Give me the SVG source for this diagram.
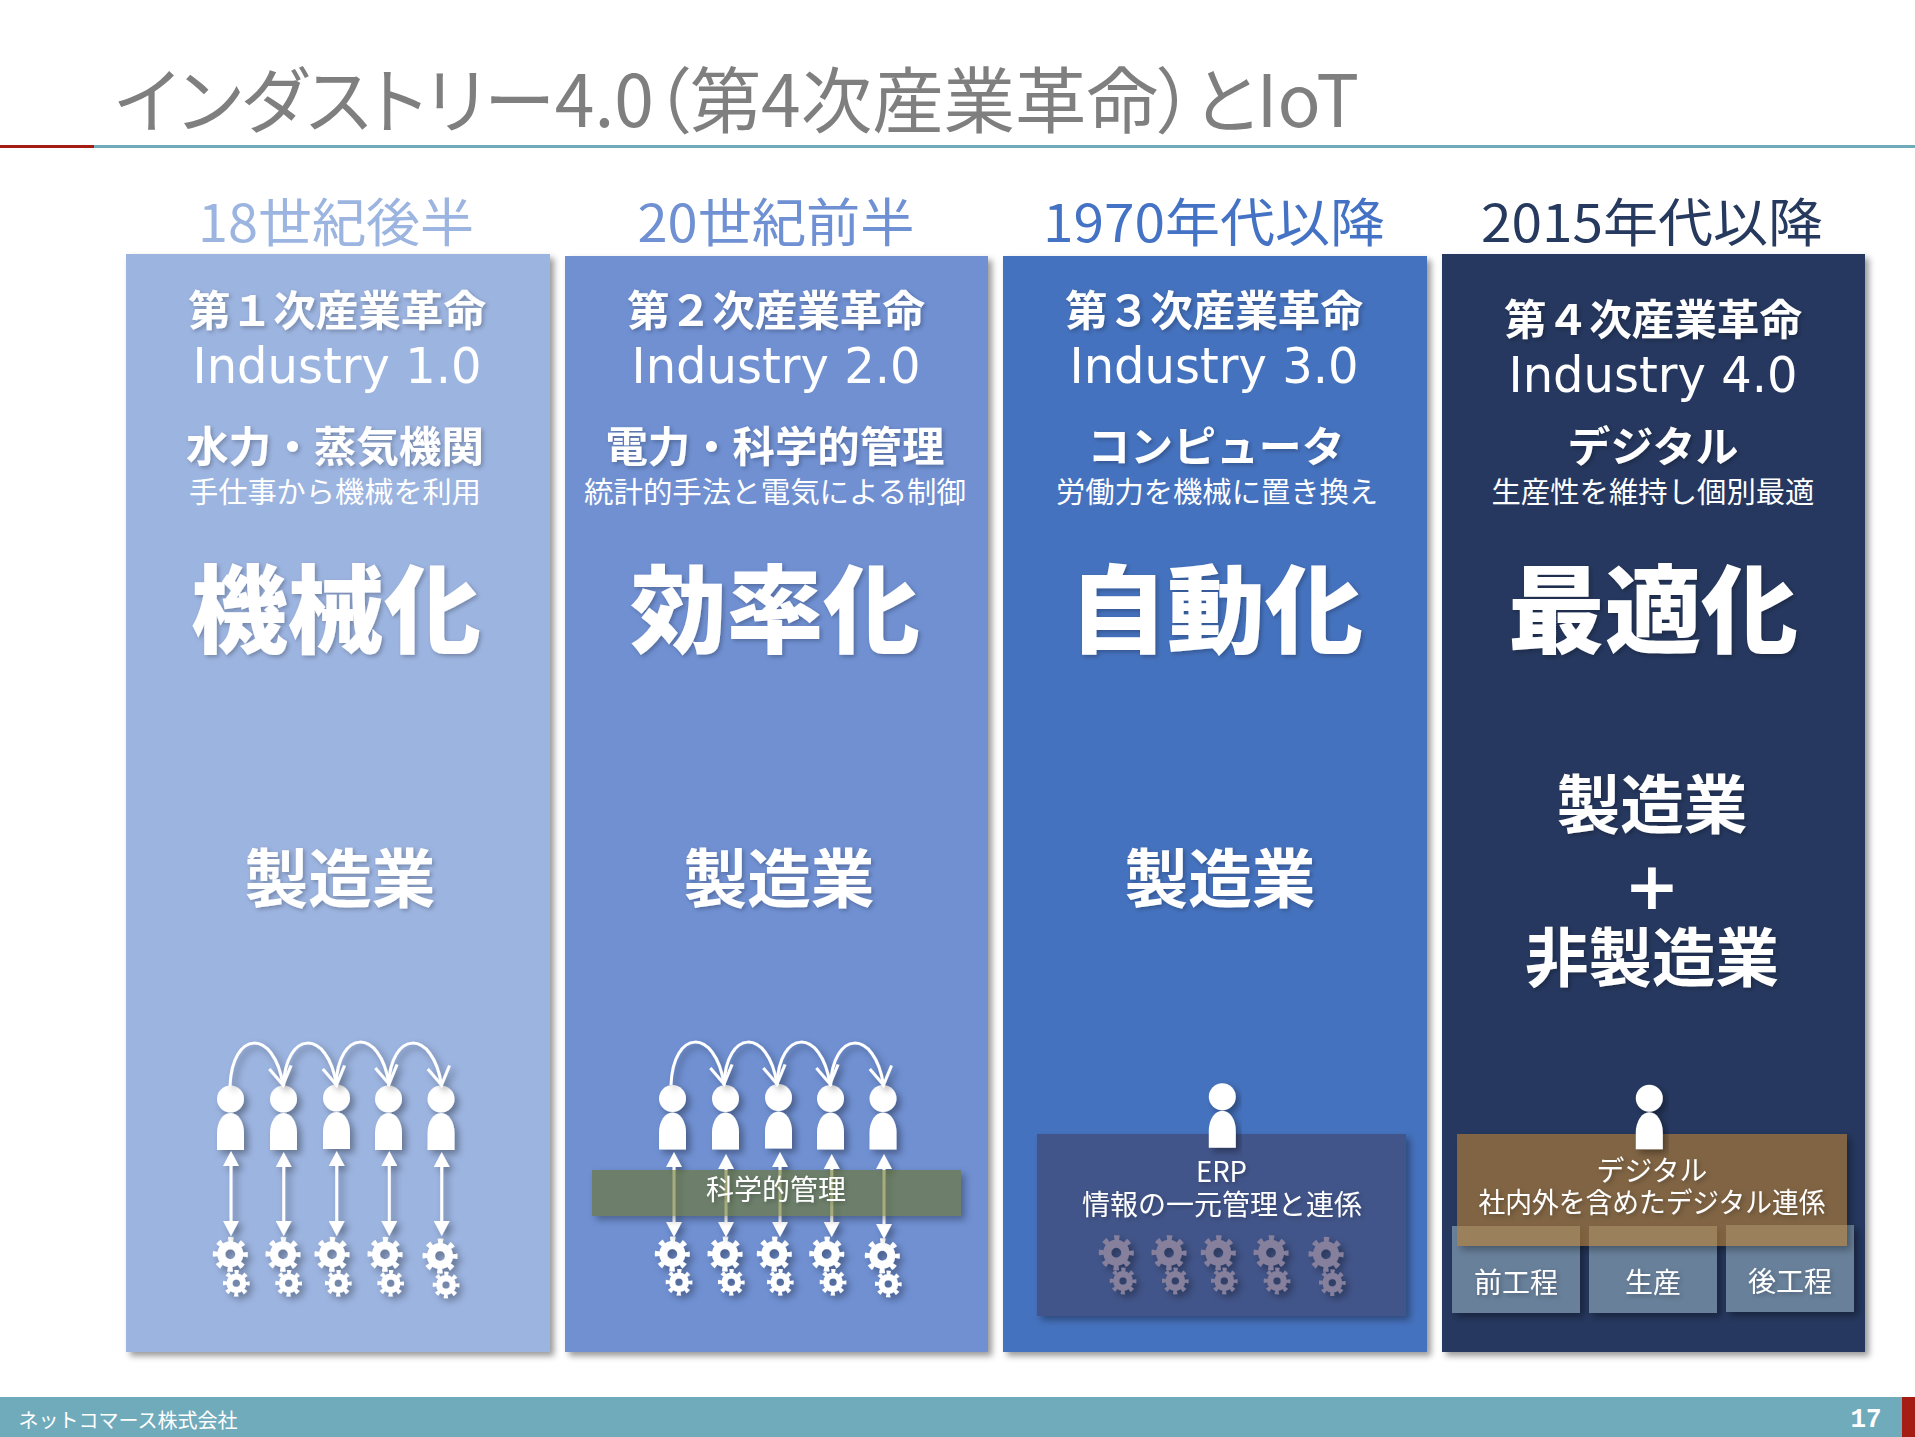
<svg xmlns="http://www.w3.org/2000/svg" xmlns:xlink="http://www.w3.org/1999/xlink" width="1915" height="1437" viewBox="0 0 1915 1437">
<style>
text{font-family:"Noto Sans CJK JP","Noto Sans",sans-serif;fill:#fff;text-anchor:middle}
.b{font-weight:700}
.gen{font-size:42px;font-weight:700;filter:url(#ts)}
.ind{font-family:"DejaVu Sans",sans-serif;font-size:50px}
.big{font-size:96px;font-weight:900;filter:url(#ts)}
.sub{font-size:29px}
.era{font-size:52px}
.mfg{font-size:64px;font-weight:700;filter:url(#ts)}
.sm{font-size:28px;filter:url(#ts)}
.hop{fill:none;stroke:#fff;stroke-width:3;marker-end:url(#open)}
.dbl{stroke:#fff;stroke-width:3;marker-start:url(#tri);marker-end:url(#tri)}
.shadow{filter:url(#ds)}
.outer{filter:url(#dsout)}
.pshadow{filter:url(#ps)}
</style>
<defs>
<filter id="ps" x="-5%" y="-5%" width="110%" height="110%"><feDropShadow dx="4" dy="4" stdDeviation="3" flood-color="#000" flood-opacity=".4"/></filter>
<filter id="ds" x="-20%" y="-20%" width="140%" height="140%"><feDropShadow dx="4" dy="4" stdDeviation="3.5" flood-color="#000" flood-opacity=".35"/></filter>
<filter id="dsout" x="-10%" y="-20%" width="120%" height="140%">
<feComponentTransfer in="SourceAlpha" result="solid"><feFuncA type="linear" slope="10"/></feComponentTransfer>
<feGaussianBlur in="solid" stdDeviation="3.5" result="bl"/><feOffset in="bl" dx="4" dy="4" result="off"/>
<feFlood flood-color="#000" flood-opacity=".3"/><feComposite in2="off" operator="in" result="sh"/>
<feComposite in="sh" in2="solid" operator="out" result="shout"/>
<feMerge><feMergeNode in="shout"/><feMergeNode in="SourceGraphic"/></feMerge>
</filter>
<filter id="ts" x="-10%" y="-10%" width="120%" height="125%"><feDropShadow dx="2" dy="2" stdDeviation="2" flood-color="#000" flood-opacity=".25"/></filter>
<marker id="tri" markerUnits="userSpaceOnUse" markerWidth="16" markerHeight="16" refX="11" refY="8" orient="auto-start-reverse"><path d="M0 0 L15 8 L0 16 Z" fill="#fff"/></marker>
<marker id="open" markerUnits="userSpaceOnUse" markerWidth="22" markerHeight="26" refX="19" refY="13" orient="auto"><path d="M1 2 L19 13 L1 24" fill="none" stroke="#fff" stroke-width="3"/></marker>
<path id="hop" class="hop" d="M0 0 C2 -56 44 -58 53 -1"/>
<g id="person"><circle r="13.5"/><path d="M-13.5 51 V34 A13.5 20 0 0 1 13.5 34 V51 Z"/></g>
<g id="gear"><circle r="9" fill="none" stroke="currentColor" stroke-width="8"/><circle r="14.5" fill="none" stroke="currentColor" stroke-width="6" stroke-dasharray="5 6.39" stroke-dashoffset="2.5"/></g>
</defs>
<rect width="1915" height="1437" fill="#fff"/>

<g id="title">
<text x="737" y="127" font-size="72" font-weight="400" textLength="1244" lengthAdjust="spacingAndGlyphs" style="fill:#7f7f7f;font-feature-settings:'palt'">インダストリー4.0（第4次産業革命）とIoT</text>
<rect x="0" y="145" width="94" height="3" fill="#a51c14"/>
<rect x="94" y="145" width="1821" height="3" fill="#70abbc"/>
</g>

<g id="panel1">
<text class="era" x="336" y="242" textLength="276" lengthAdjust="spacingAndGlyphs" style="fill:#9cb4e0">18世紀後半</text>
<rect class="pshadow" x="126" y="254" width="424" height="1098" fill="#9cb4e0"/>
<text class="gen" x="337" y="326" textLength="298" lengthAdjust="spacingAndGlyphs">第１次産業革命</text>
<text class="ind" x="337" y="383" textLength="289" lengthAdjust="spacingAndGlyphs">Industry 1.0</text>
<text class="gen" x="335" y="462" textLength="298" lengthAdjust="spacingAndGlyphs">水力・蒸気機関</text>
<text class="sub" x="335" y="503" textLength="292" lengthAdjust="spacingAndGlyphs">手仕事から機械を利用</text>
<text class="big" x="336" y="645" textLength="290" lengthAdjust="spacingAndGlyphs">機械化</text>
<text class="mfg" x="340" y="902" textLength="191" lengthAdjust="spacingAndGlyphs">製造業</text>
<g class="shadow" fill="#fff">
<use href="#person" x="230.5" y="1099"/><use href="#person" x="283.5" y="1099"/><use href="#person" x="336.5" y="1098"/><use href="#person" x="388.5" y="1099"/><use href="#person" x="441" y="1099"/>
</g>
<g class="shadow" color="#fff">
<use href="#gear" x="230.3" y="1254.3"/><use href="#gear" x="283" y="1254.3"/><use href="#gear" x="332" y="1254.3"/><use href="#gear" x="385" y="1254.3"/><use href="#gear" x="440" y="1256"/>
<use href="#gear" transform="translate(236.3 1283.3) scale(.76)"/><use href="#gear" transform="translate(288.7 1283.3) scale(.76)"/><use href="#gear" transform="translate(338.3 1283.3) scale(.76)"/><use href="#gear" transform="translate(390.7 1283.3) scale(.76)"/><use href="#gear" transform="translate(446 1285) scale(.76)"/>
</g>
</g>

<g id="panel2">
<text class="era" x="776" y="242" textLength="277" lengthAdjust="spacingAndGlyphs" style="fill:#6f90d2">20世紀前半</text>
<rect class="pshadow" x="565" y="256" width="423" height="1096" fill="#6f90d2"/>
<text class="gen" x="776" y="326" textLength="298" lengthAdjust="spacingAndGlyphs">第２次産業革命</text>
<text class="ind" x="776" y="383" textLength="289" lengthAdjust="spacingAndGlyphs">Industry 2.0</text>
<text class="gen" x="775" y="462" textLength="339" lengthAdjust="spacingAndGlyphs">電力・科学的管理</text>
<text class="sub" x="775" y="503" textLength="382" lengthAdjust="spacingAndGlyphs">統計的手法と電気による制御</text>
<text class="big" x="775" y="645" textLength="290" lengthAdjust="spacingAndGlyphs">効率化</text>
<text class="mfg" x="779" y="902" textLength="191" lengthAdjust="spacingAndGlyphs">製造業</text>
<g class="shadow" fill="#fff">
<use href="#person" x="672.5" y="1098.5"/><use href="#person" x="725.5" y="1098.5"/><use href="#person" x="778.5" y="1097.5"/><use href="#person" x="830.5" y="1098.5"/><use href="#person" x="883" y="1098.5"/>
</g>
<g class="shadow" color="#fff">
<use href="#gear" x="672.3" y="1254"/><use href="#gear" x="725" y="1254"/><use href="#gear" x="774.3" y="1254"/><use href="#gear" x="826.7" y="1254"/><use href="#gear" x="882.3" y="1255.7"/>
<use href="#gear" transform="translate(679 1282.3) scale(.76)"/><use href="#gear" transform="translate(731.3 1282.3) scale(.76)"/><use href="#gear" transform="translate(780.3 1282.3) scale(.76)"/><use href="#gear" transform="translate(833 1282.3) scale(.76)"/><use href="#gear" transform="translate(888.3 1284) scale(.76)"/>
</g>
</g>

<g id="panel3">
<text class="era" x="1214" y="242" textLength="342" lengthAdjust="spacingAndGlyphs" style="fill:#4472c4">1970年代以降</text>
<rect class="pshadow" x="1003" y="256" width="424" height="1096" fill="#4472be"/>
<text class="gen" x="1214" y="326" textLength="298" lengthAdjust="spacingAndGlyphs">第３次産業革命</text>
<text class="ind" x="1214" y="383" textLength="289" lengthAdjust="spacingAndGlyphs">Industry 3.0</text>
<text class="gen" x="1216" y="462" textLength="257" lengthAdjust="spacingAndGlyphs">コンピュータ</text>
<text class="sub" x="1217" y="503" textLength="322" lengthAdjust="spacingAndGlyphs">労働力を機械に置き換え</text>
<text class="big" x="1216" y="645" textLength="294" lengthAdjust="spacingAndGlyphs">自動化</text>
<text class="mfg" x="1220" y="902" textLength="191" lengthAdjust="spacingAndGlyphs">製造業</text>
</g>
<g id="erp">
<rect class="shadow" x="1037" y="1134" width="369" height="182" fill="#42548a"/>
<g class="shadow" color="#86809c">
<use href="#gear" x="1116.3" y="1252.7"/><use href="#gear" x="1169" y="1252.7"/><use href="#gear" x="1218.3" y="1252.7"/><use href="#gear" x="1271" y="1252.7"/><use href="#gear" x="1326" y="1254.3"/>
<use href="#gear" transform="translate(1123 1281) scale(.76)"/><use href="#gear" transform="translate(1175.3 1281) scale(.76)"/><use href="#gear" transform="translate(1224.3 1281) scale(.76)"/><use href="#gear" transform="translate(1277 1281) scale(.76)"/><use href="#gear" transform="translate(1332.3 1282.7) scale(.76)"/>
</g>
<text class="sm" x="1221.5" y="1182" textLength="51" lengthAdjust="spacingAndGlyphs">ERP</text>
<text class="sm" x="1222" y="1215" textLength="280" lengthAdjust="spacingAndGlyphs">情報の一元管理と連係</text>
<use class="shadow" href="#person" x="1222.3" y="1096.7" fill="#fff"/>
</g>

<g id="panel4">
<text class="era" x="1652" y="242" textLength="342" lengthAdjust="spacingAndGlyphs" style="fill:#26395e">2015年代以降</text>
<rect class="pshadow" x="1442" y="254" width="423" height="1098" fill="#26395e"/>
<text class="gen" x="1653" y="335" textLength="298" lengthAdjust="spacingAndGlyphs">第４次産業革命</text>
<text class="ind" x="1653" y="392" textLength="289" lengthAdjust="spacingAndGlyphs">Industry 4.0</text>
<text class="gen" x="1653" y="462" textLength="171" lengthAdjust="spacingAndGlyphs">デジタル</text>
<text class="sub" x="1653" y="503" textLength="323" lengthAdjust="spacingAndGlyphs">生産性を維持し個別最適</text>
<text class="big" x="1653" y="645" textLength="290" lengthAdjust="spacingAndGlyphs">最適化</text>
<text class="mfg" x="1652" y="828" textLength="191" lengthAdjust="spacingAndGlyphs">製造業</text>
<text x="1652" y="909" font-size="66" font-weight="700" style="font-family:'DejaVu Sans',sans-serif">+</text>
<text class="mfg" x="1652" y="981" textLength="254" lengthAdjust="spacingAndGlyphs">非製造業</text>
</g>
<g id="processes">
<rect class="shadow" x="1452" y="1226" width="128" height="87" fill="#68809a"/>
<rect class="shadow" x="1589" y="1226" width="128" height="87" fill="#68809a"/>
<rect class="shadow" x="1726" y="1225" width="128" height="87" fill="#68809a"/>
<text class="sm" x="1516" y="1293">前工程</text>
<text class="sm" x="1653" y="1293">生産</text>
<text class="sm" x="1790" y="1292">後工程</text>
</g>
<g id="digital">
<rect class="outer" x="1457" y="1134" width="390" height="112" fill="#bc8234" fill-opacity=".6"/>
<text class="sm" x="1652" y="1181" textLength="111" lengthAdjust="spacingAndGlyphs">デジタル</text>
<text class="sm" x="1652" y="1213" textLength="347" lengthAdjust="spacingAndGlyphs">社内外を含めたデジタル連係</text>
<use class="shadow" href="#person" x="1649.3" y="1098.3" fill="#fff"/>
</g>

<g id="connectors">
<g class="shadow">
<use href="#hop" x="230" y="1086"/><use href="#hop" x="283.5" y="1086"/><use href="#hop" x="336" y="1085"/><use href="#hop" x="388.5" y="1086"/>
<use href="#hop" x="671" y="1085"/><use href="#hop" x="724" y="1085"/><use href="#hop" x="777" y="1085"/><use href="#hop" x="830.5" y="1086"/>
<line class="dbl" x1="231" y1="1155" x2="231" y2="1232"/><line class="dbl" x1="283.7" y1="1156" x2="283.7" y2="1232"/><line class="dbl" x1="336.7" y1="1155" x2="336.7" y2="1232"/><line class="dbl" x1="389.3" y1="1155" x2="389.3" y2="1232"/><line class="dbl" x1="441.7" y1="1156" x2="441.7" y2="1232"/>
<line class="dbl" x1="674" y1="1156" x2="674" y2="1233"/><line class="dbl" x1="726" y1="1158" x2="726" y2="1233"/><line class="dbl" x1="780" y1="1156" x2="780" y2="1233"/><line class="dbl" x1="831.7" y1="1158" x2="831.7" y2="1233"/><line class="dbl" x1="884" y1="1158" x2="884" y2="1235"/>
</g>
</g>

<g id="scientific">
<rect class="outer" x="592" y="1170" width="369" height="46" fill="#697525" fill-opacity=".6"/>
<text class="sm" x="776" y="1200" textLength="140" lengthAdjust="spacingAndGlyphs">科学的管理</text>
</g>

<g id="footer">
<rect x="0" y="1397" width="1915" height="40" fill="#70abbc"/>
<rect x="1902" y="1397" width="13" height="40" fill="#a51c14"/>
<text x="128" y="1428" font-size="20" textLength="219" lengthAdjust="spacingAndGlyphs">ネットコマース株式会社</text>
<text x="1866" y="1427" font-size="27" textLength="31" lengthAdjust="spacingAndGlyphs" style="font-family:'Liberation Mono',monospace;font-weight:700">17</text>
</g>
</svg>
